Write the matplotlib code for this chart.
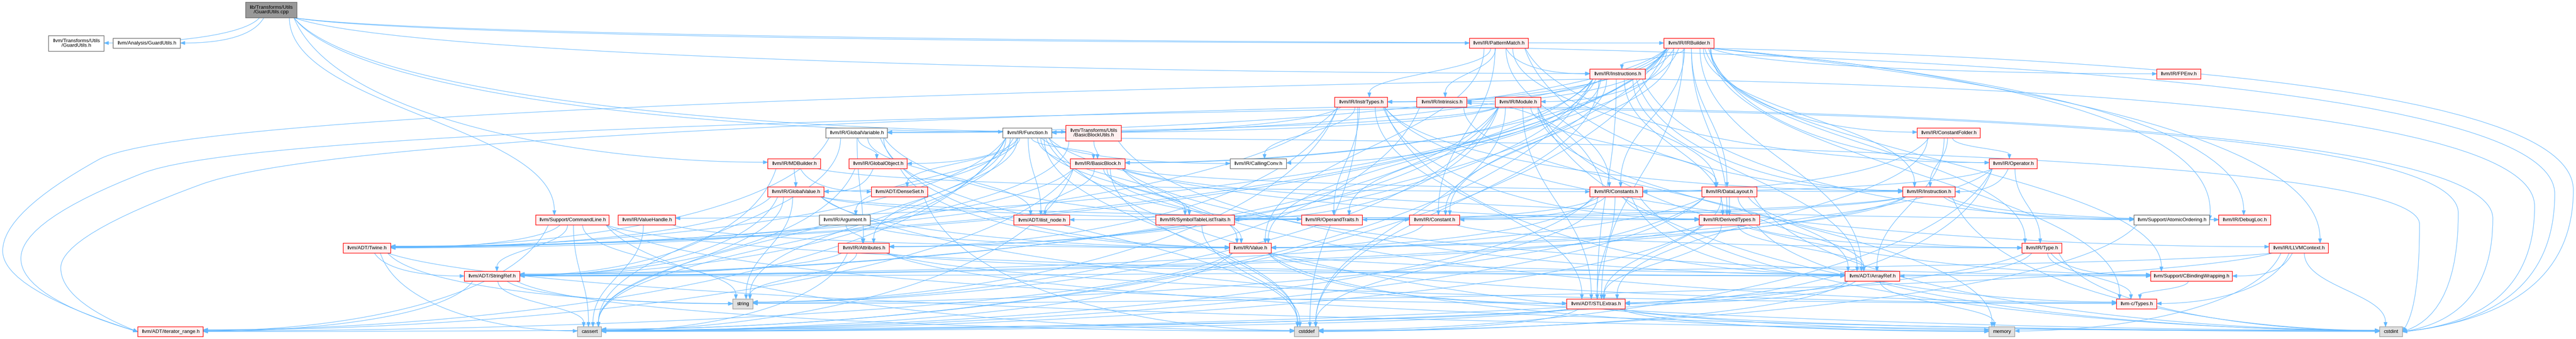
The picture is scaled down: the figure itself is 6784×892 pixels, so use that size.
import numpy as np
import matplotlib
matplotlib.use("Agg")
import matplotlib.pyplot as plt
from matplotlib.path import Path
from matplotlib.patches import PathPatch, Rectangle, Polygon

plt.rcParams['font.family'] = ['Liberation Sans', 'DejaVu Sans']

W, H = 6784, 892

# nodes: id, label, kind
node_ids = ["cpp", "tgu", "agu", "patmatch", "irbuilder", "instructions", "fpenv",
            "instrtypes", "intrinsics", "module", "globalvar", "function", "bbutils",
            "constfolder", "mdbuilder", "globalobj", "basicblock", "callingconv",
            "operator", "globalvalue", "denseset", "constants", "datalayout",
            "instruction", "commandline", "valuehandle", "argument", "ilist",
            "symtab", "operandtraits", "constant", "derivedtypes", "atomic",
            "debugloc", "twine", "attributes", "value", "type", "llvmcontext",
            "stringref", "arrayref", "cbinding", "string", "stlextras", "ctypes",
            "iterrange", "cassert", "cstddef", "memory", "cstdint"]

node_labels = ["lib/Transforms/Utils\n/GuardUtils.cpp", "llvm/Transforms/Utils\n/GuardUtils.h",
               "llvm/Analysis/GuardUtils.h", "llvm/IR/PatternMatch.h", "llvm/IR/IRBuilder.h",
               "llvm/IR/Instructions.h", "llvm/IR/FPEnv.h", "llvm/IR/InstrTypes.h",
               "llvm/IR/Intrinsics.h", "llvm/IR/Module.h", "llvm/IR/GlobalVariable.h",
               "llvm/IR/Function.h", "llvm/Transforms/Utils\n/BasicBlockUtils.h",
               "llvm/IR/ConstantFolder.h", "llvm/IR/MDBuilder.h", "llvm/IR/GlobalObject.h",
               "llvm/IR/BasicBlock.h", "llvm/IR/CallingConv.h", "llvm/IR/Operator.h",
               "llvm/IR/GlobalValue.h", "llvm/ADT/DenseSet.h", "llvm/IR/Constants.h",
               "llvm/IR/DataLayout.h", "llvm/IR/Instruction.h", "llvm/Support/CommandLine.h",
               "llvm/IR/ValueHandle.h", "llvm/IR/Argument.h", "llvm/ADT/ilist_node.h",
               "llvm/IR/SymbolTableListTraits.h", "llvm/IR/OperandTraits.h",
               "llvm/IR/Constant.h", "llvm/IR/DerivedTypes.h", "llvm/Support/AtomicOrdering.h",
               "llvm/IR/DebugLoc.h", "llvm/ADT/Twine.h", "llvm/IR/Attributes.h",
               "llvm/IR/Value.h", "llvm/IR/Type.h", "llvm/IR/LLVMContext.h",
               "llvm/ADT/StringRef.h", "llvm/ADT/ArrayRef.h", "llvm/Support/CBindingWrapping.h",
               "string", "llvm/ADT/STLExtras.h", "llvm-c/Types.h", "llvm/ADT/iterator_range.h",
               "cassert", "cstddef", "memory", "cstdint"]

node_kinds = ["main", "plain", "plain", "trunc", "trunc", "trunc", "trunc",
              "trunc", "trunc", "trunc", "plain", "plain", "trunc",
              "trunc", "trunc", "trunc", "trunc", "plain",
              "trunc", "trunc", "trunc", "trunc", "trunc",
              "trunc", "trunc", "trunc", "plain", "trunc",
              "trunc", "trunc", "trunc", "trunc", "plain",
              "trunc", "trunc", "trunc", "trunc", "trunc", "trunc",
              "trunc", "trunc", "trunc", "sys", "trunc", "trunc",
              "trunc", "sys", "sys", "sys", "sys"]

# include edges: source -> targets
includes = {
    "cpp": ["tgu", "agu", "function", "irbuilder", "instructions", "mdbuilder",
            "patmatch", "commandline", "bbutils"],
    "irbuilder": ["arrayref", "stlextras", "stringref", "twine", "basicblock", "constant",
                  "constfolder", "constants", "datalayout", "debugloc", "derivedtypes",
                  "fpenv", "function", "globalvar", "instrtypes", "instruction",
                  "instructions", "intrinsics", "llvmcontext", "module", "operator",
                  "type", "value", "valuehandle", "atomic", "cbinding", "ctypes",
                  "cassert", "cstdint"],
    "patmatch": ["constant", "constants", "datalayout", "instrtypes", "instruction",
                 "instructions", "intrinsics", "operator", "value", "cstdint"],
    "instructions": ["arrayref", "stlextras", "twine", "iterrange", "attributes",
                     "basicblock", "callingconv", "constant", "derivedtypes", "instrtypes",
                     "instruction", "operandtraits", "atomic", "cassert", "cstddef",
                     "cstdint"],
    "instrtypes": ["arrayref", "stlextras", "twine", "iterrange", "attributes",
                   "callingconv", "derivedtypes", "function", "instruction", "llvmcontext",
                   "operandtraits", "cstddef", "cstdint", "string"],
    "intrinsics": ["arrayref", "string"],
    "module": ["stlextras", "stringref", "iterrange", "attributes", "datalayout",
               "function", "globalvar", "symtab", "cbinding", "ctypes", "cstddef",
               "cstdint", "memory", "string"],
    "globalvar": ["twine", "ilist", "attributes", "globalobj", "operandtraits", "value",
                  "cassert", "cstddef"],
    "function": ["denseset", "stringref", "twine", "ilist", "iterrange", "argument",
                 "attributes", "basicblock", "callingconv", "derivedtypes", "globalobj",
                 "globalvalue", "operandtraits", "symtab", "value", "cassert", "cstddef",
                 "cstdint", "memory", "string"],
    "bbutils": ["arrayref", "basicblock", "cassert"],
    "constfolder": ["arrayref", "stlextras", "constants", "instruction", "operator"],
    "mdbuilder": ["denseset", "stringref", "globalvalue", "constants"],
    "globalobj": ["stringref", "globalvalue", "value"],
    "basicblock": ["ilist", "twine", "iterrange", "instruction", "debugloc", "symtab",
                   "value", "cbinding", "ctypes", "cassert", "cstddef"],
    "operator": ["stlextras", "constants", "instruction", "type", "value", "cstddef"],
    "globalvalue": ["stringref", "twine", "constant", "derivedtypes", "value", "cassert",
                    "cstdint", "string"],
    "denseset": ["cstddef"],
    "constants": ["arrayref", "stlextras", "constant", "derivedtypes", "intrinsics",
                  "operandtraits", "value", "cassert", "cstddef", "cstdint"],
    "datalayout": ["arrayref", "stlextras", "stringref", "derivedtypes", "type", "cassert",
                   "cstdint", "string"],
    "instruction": ["stringref", "ilist", "debugloc", "symtab", "value", "atomic", "cstdint"],
    "commandline": ["arrayref", "stlextras", "stringref", "twine", "iterrange", "cassert",
                    "cstddef", "string"],
    "valuehandle": ["value", "cassert"],
    "argument": ["twine", "attributes", "value"],
    "symtab": ["cstddef"],
    "constant": ["type", "value"],
    "derivedtypes": ["arrayref", "stlextras", "stringref", "type", "cassert", "cstdint"],
    "atomic": ["cstddef"],
    "twine": ["stringref", "cassert", "cstdint", "string"],
    "attributes": ["arrayref", "stringref", "ctypes", "cassert", "cstdint", "string"],
    "value": ["stlextras", "iterrange", "cbinding", "ctypes", "cassert", "memory"],
    "type": ["arrayref", "cbinding", "ctypes", "cassert", "cstdint"],
    "llvmcontext": ["stringref", "cbinding", "ctypes", "cstdint", "memory", "string"],
    "stringref": ["iterrange", "cassert", "cstddef", "string"],
    "arrayref": ["stlextras", "cassert", "cstddef", "memory"],
    "cbinding": ["ctypes"],
    "stlextras": ["iterrange", "cassert", "cstddef", "cstdint", "memory"],
}

# layout (pixel space): left, right, rank row
row_y = [26, 114, 195, 269, 350, 431, 505, 579, 653, 727, 800, 873]
layout = {
    "cpp": (647, 782, 0),
    "tgu": (128, 274, 1), "agu": (298, 475, 1), "patmatch": (3870, 4025, 1),
    "irbuilder": (4382, 4514, 1),
    "instructions": (4187, 4333, 2), "fpenv": (5680, 5796, 2),
    "instrtypes": (3515, 3654, 3), "intrinsics": (3731, 3863, 3), "module": (3938, 4058, 3),
    "globalvar": (2175, 2337, 4), "function": (2641, 2770, 4), "bbutils": (2807, 2953, 4),
    "constfolder": (5049, 5215, 4),
    "mdbuilder": (2022, 2161, 5), "globalobj": (2236, 2389, 5), "basicblock": (2819, 2963, 5),
    "callingconv": (3240, 3388, 5), "operator": (5239, 5365, 5),
    "globalvalue": (2022, 2170, 6), "denseset": (2295, 2443, 6), "constants": (4187, 4326, 6),
    "datalayout": (4482, 4627, 6), "instruction": (5011, 5149, 6),
    "commandline": (1411, 1604, 7), "valuehandle": (1628, 1779, 7), "argument": (2158, 2292, 7),
    "ilist": (2670, 2817, 7), "symtab": (3044, 3251, 7), "operandtraits": (3428, 3588, 7),
    "constant": (3712, 3844, 7), "derivedtypes": (4475, 4634, 7), "atomic": (5620, 5819, 7),
    "debugloc": (5843, 5980, 7),
    "twine": (904, 1029, 8), "attributes": (2208, 2342, 8), "value": (3238, 3348, 8),
    "type": (5325, 5430, 8), "llvmcontext": (5976, 6132, 8),
    "stringref": (1223, 1369, 9), "arrayref": (4859, 5003, 9), "cbinding": (5664, 5879, 9),
    "string": (1930, 1983, 10), "stlextras": (4126, 4280, 10), "ctypes": (5574, 5680, 10),
    "iterrange": (363, 535, 11), "cassert": (1521, 1584, 11), "cstddef": (3409, 3473, 11),
    "memory": (5238, 5306, 11), "cstdint": (6267, 6327, 11),
}

# long edges that dot routes around the sides of the graph: (src, tgt) -> bend points
detours = {
    ("irbuilder", "cstdint"): [(6777, 180), (6777, 820)],
    ("patmatch", "cstdint"): [(6728, 190), (6728, 830)],
    ("instructions", "cstdint"): [(6675, 250), (6675, 835)],
    ("module", "cstdint"): [(6565, 320), (6565, 830)],
    ("instrtypes", "cstdint"): [(6474, 300), (6474, 820)],
    ("function", "cstdint"): [(6372, 380), (6372, 800)],
    ("irbuilder", "atomic"): [(5848, 250)],
    ("irbuilder", "debugloc"): [(5909, 260)],
    ("irbuilder", "llvmcontext"): [(6110, 300)],
    ("instructions", "iterrange"): [(512, 280), (7, 560), (7, 760)],
    ("module", "iterrange"): [(700, 330), (55, 580), (55, 780)],
    ("instrtypes", "iterrange"): [(900, 350), (160, 620), (160, 790)],
}

styles = {
    "main": ("#999999", "#666666"),
    "plain": ("#FFFFFF", "#666666"),
    "trunc": ("#FFF0F0", "#FF0000"),
    "sys": ("#E0E0E0", "#999999"),
}
edge_color = "#63B8FF"


def box(nid):
    x0, x1, r = layout[nid]
    label = node_labels[node_ids.index(nid)]
    h = 41 if "\n" in label else 26
    yc = row_y[r]
    return x0, x1, yc - h / 2, yc + h / 2


fig = plt.figure(figsize=(W / 100, H / 100), dpi=100)
ax = fig.add_axes([0, 0, 1, 1])
ax.set_xlim(0, W)
ax.set_ylim(H, 0)
ax.axis("off")

arrow_len, arrow_half = 12, 4.5


def draw_arrow(ex, ey, cx, cy):
    ux, uy = ex - cx, ey - cy
    n = np.hypot(ux, uy)
    ux, uy = ux / n, uy / n
    bx, by = ex - ux * arrow_len, ey - uy * arrow_len
    tri = [(ex, ey), (bx - uy * arrow_half, by + ux * arrow_half),
           (bx + uy * arrow_half, by - ux * arrow_half)]
    ax.add_patch(Polygon(tri, closed=True, fc=edge_color, ec=edge_color, lw=0.6, zorder=2))
    return bx, by


for src, targets in includes.items():
    sx0, sx1, syt, syb = box(src)
    scx = (sx0 + sx1) / 2
    scy = (syt + syb) / 2
    for tgt in targets:
        tx0, tx1, tyt, tyb = box(tgt)
        tcx = (tx0 + tx1) / 2
        tcy = (tyt + tyb) / 2
        dx = tcx - scx
        dy = tyt - syb
        sw = (sx1 - sx0) / 2 - 8
        tw = (tx1 - tx0) / 2 - 8
        px = scx + np.clip(dx * 0.06, -sw, sw)
        py = syb

        if (src, tgt) in detours:
            pts = detours[(src, tgt)]
            lastx = pts[-1][0]
            if lastx > tx1:
                ex, ey = tx1, tcy
            elif lastx < tx0:
                ex, ey = tx0, tcy
            else:
                ex, ey = tcx + np.clip(lastx - tcx, -tw, tw), tyt
            bx, by = draw_arrow(ex, ey, pts[-1][0], pts[-1][1])
            allp = [(px, py)] + pts + [(bx, by)]
            verts = [allp[0]]
            codes = [Path.MOVETO]
            for i in range(1, len(allp) - 1):
                mx = (allp[i][0] + allp[i + 1][0]) / 2
                my = (allp[i][1] + allp[i + 1][1]) / 2
                if i == len(allp) - 2:
                    mx, my = allp[i + 1]
                verts += [allp[i], (mx, my)]
                codes += [Path.CURVE3, Path.CURVE3]
            ax.add_patch(PathPatch(Path(verts, codes), fc="none", ec=edge_color,
                                   lw=0.9, zorder=1))
            continue

        if abs(dx) <= 2.6 * dy + 60:
            ex = tcx + np.clip(-dx * 0.06, -tw, tw)
            ey = tyt
            c1 = (px, py + dy * 0.45)
            c2 = (ex, ey - dy * 0.45)
        else:
            ex = tx0 if dx > 0 else tx1
            ey = tcy + np.clip((scy - tcy) * 0.01, -7, 7)
            c1 = (px + dx * 0.08, py + (ey - py) * 0.7)
            c2 = (ex - dx * 0.35, ey)
        bx, by = draw_arrow(ex, ey, c2[0], c2[1])
        path = Path([(px, py), c1, c2, (bx, by)],
                    [Path.MOVETO, Path.CURVE4, Path.CURVE4, Path.CURVE4])
        ax.add_patch(PathPatch(path, fc="none", ec=edge_color, lw=0.9, zorder=1))

for nid, label, kind in zip(node_ids, node_labels, node_kinds):
    x0, x1, yt, yb = box(nid)
    fc, ec = styles[kind]
    ax.add_patch(Rectangle((x0, yt), x1 - x0, yb - yt, fc=fc, ec=ec, lw=1.1, zorder=3))
    ax.text((x0 + x1) / 2, (yt + yb) / 2, label, ha="center", va="center",
            fontsize=9.6, color="black", linespacing=1.05, zorder=4)

fig.savefig("out.png", dpi=100)
